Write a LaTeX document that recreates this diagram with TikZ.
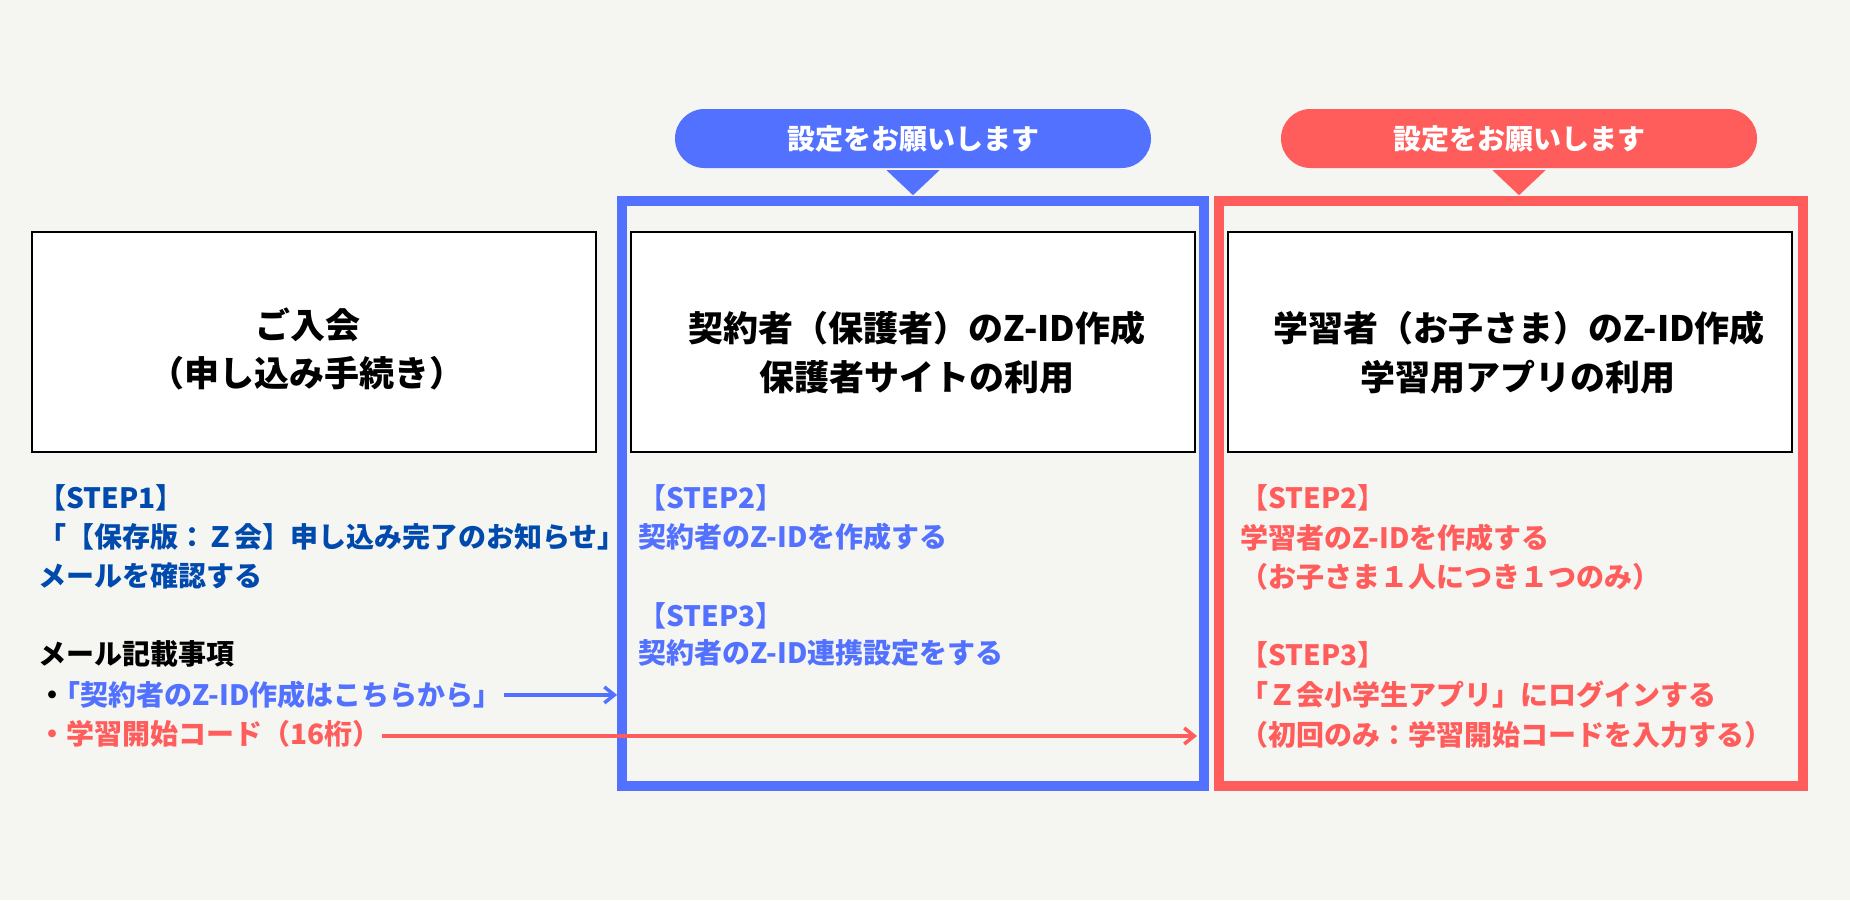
\documentclass[tikz,border=0pt]{standalone}
\usepackage{fontspec}
\setmainfont{Noto Sans CJK JP}
\usetikzlibrary{arrows.meta,calc}
\definecolor{bg}{HTML}{F5F5F1}
\definecolor{zblue}{HTML}{5271FF}
\definecolor{zred}{HTML}{FF5C5C}
\definecolor{zdark}{HTML}{004AAD}
\begin{document}
\begin{tikzpicture}[x=1pt,y=-1pt,
  box/.style={draw=black,line width=1.3pt,fill=white,minimum width=564pt,minimum height=220pt,inner sep=0pt},
  frame/.style={line width=9.8pt,minimum height=585pt,inner sep=0pt},
  ln/.style={anchor=base west,inner sep=0pt,font=\fontsize{28}{34}\selectfont\bfseries},
  ttl/.style={anchor=base,inner sep=0pt,font=\fontsize{35}{42}\selectfont\bfseries},
  pill/.style={rounded corners=29.5pt,minimum width=476pt,minimum height=59pt,inner sep=0pt,text=white,font=\fontsize{28}{34}\selectfont\bfseries},
  arr/.style={line width=3.5pt,-{Straight Barb[length=10pt,width=16pt]}}]
\useasboundingbox (0,0) rectangle (1850,900);
\fill[bg] (0,0) rectangle (1850,900);
% frames
\node[frame,draw=zblue,minimum width=582pt] (fb) at (913,493.5) {};
\node[frame,draw=zred,minimum width=584pt] (fr) at (1511,493.5) {};
% boxes
\node[box] (b1) at (314,342) {};
\node[box] (b2) at (913,342) {};
\node[box] (b3) at (1510,342) {};
% titles
\node[ttl] (t1a) at (308,338.3) {ご入会};
\node[ttl] (t1b) at (307,386.3) {（申し込み手続き）};
\node[ttl] (t2a) at (917,341.3) {契約者（保護者）のZ-ID作成};
\node[ttl] (t2b) at (917,390.3) {保護者サイトの利用};
\node[ttl] (t3a) at (1519,341.3) {学習者（お子さま）のZ-ID作成};
\node[ttl] (t3b) at (1518,390.3) {学習用アプリの利用};
% pills
\node[pill,fill=zblue] (p1) at (913,138.5) {設定をお願いします};
\node[pill,fill=zred] (p2) at (1519,138.5) {設定をお願いします};
\fill[zblue] ($(p1.south)+(-26.5,2)$) -- ($(p1.south)+(26.5,2)$) -- ($(p1.south)+(0,27)$) -- cycle;
\fill[zred] ($(p2.south)+(-26.5,2)$) -- ($(p2.south)+(26.5,2)$) -- ($(p2.south)+(0,27)$) -- cycle;
% left column
\node[ln,text=zdark] (s1a) at (38,508.6) {【STEP1】};
\node[ln,text=zdark] (s1b) at (38,547.6) {「【保存版：Ｚ会】申し込み完了のお知らせ」};
\node[ln,text=zdark] (s1c) at (38,586.6) {メールを確認する};
\node[ln,text=black] (mh) at (38,664.6) {メール記載事項};
\node[ln,text=zblue] (it1) at (38,705.6) {\textcolor{black}{・}\kern-14pt「契約者のZ-ID作成はこちらから」};
\node[ln,text=zred] (it2) at (38,744.6) {・学習開始コード（16桁）};
% blue column
\node[ln,text=zblue] (s2a) at (638,508.6) {【STEP2】};
\node[ln,text=zblue] (s2b) at (638,547.6) {契約者のZ-IDを作成する};
\node[ln,text=zblue] (s3a) at (638,626.6) {【STEP3】};
\node[ln,text=zblue] (s3b) at (638,663.6) {契約者のZ-ID連携設定をする};
% red column
\node[ln,text=zred] (r2a) at (1240,508.6) {【STEP2】};
\node[ln,text=zred] (r2b) at (1240,548.6) {学習者のZ-IDを作成する};
\node[ln,text=zred] (r2c) at (1240,587.6) {（お子さま１人につき１つのみ）};
\node[ln,text=zred] (r3a) at (1240,665.6) {【STEP3】};
\node[ln,text=zred] (r3b) at (1240,705.6) {「Ｚ会小学生アプリ」にログインする};
\node[ln,text=zred] (r3c) at (1240,745.6) {（初回のみ：学習開始コードを入力する）};
% arrows
\coordinate (redtip) at (1197,736);
\draw[arr,zblue,shorten <=2pt] (it1.east) -- (it1.east -| fb.west);
\draw[arr,zred,shorten <=1.5pt] (it2.east |- redtip) -- (redtip);
\end{tikzpicture}
\end{document}
